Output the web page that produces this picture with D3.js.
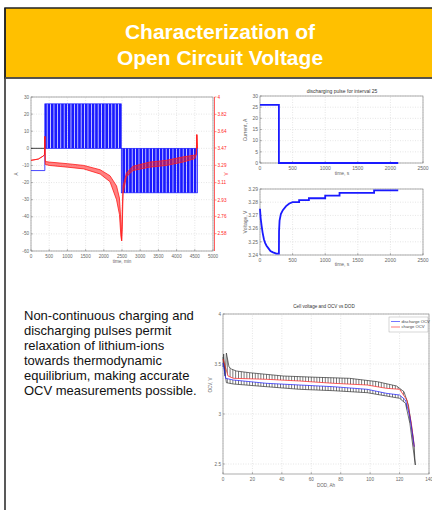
<!DOCTYPE html>
<html>
<head>
<meta charset="utf-8">
<script src="https://cdn.jsdelivr.net/npm/d3@7"></script>
<style>
  body { margin: 0; background: #fff; }
  svg { display: block; font-family: "Liberation Sans", Arial, sans-serif; }
</style>
</head>
<body>
<svg id="slide" width="432" height="510"></svg>
<script>
// ---- text ----
const titleLines = ["Characterization of", "Open Circuit Voltage"];
const bodyLines = [
  "Non-continuous charging and",
  "discharging pulses permit",
  "relaxation of lithium-ions",
  "towards thermodynamic",
  "equilibrium, making accurate",
  "OCV measurements possible."
];

// ---- chart 1 : full pulse test (current A, voltage V vs time, min) ----
const c1Phases = [
  { name: "rest", start: 0, end: 380, current: -13 },
  { name: "charge", start: 380, end: 2480, current: 26 },
  { name: "discharge", start: 2480, end: 4570, current: -26 }
];
const c1Time  = [0, 200, 330, 370, 380, 392, 500, 1000, 1450, 1900, 2170, 2350, 2430, 2470, 2490, 2505, 2530, 2620, 2800, 3260, 3720, 4180, 4500, 4540, 4555, 4575];
const c1VHigh = [3.342, 3.355, 3.385, 3.40, 3.59, 3.33, 3.324, 3.307, 3.289, 3.244, 3.182, 3.076, 2.95, 2.70, 2.507, 2.80, 3.076, 3.209, 3.28, 3.324, 3.342, 3.378, 3.396, 3.40, 3.609, 3.467];
const c1VLow  = [3.342, 3.355, 3.385, 3.40, 3.59, 3.30, 3.289, 3.271, 3.253, 3.20, 3.12, 2.933, 2.78, 2.55, 2.507, 2.62, 3.00, 3.17, 3.236, 3.271, 3.289, 3.324, 3.36, 3.40, 3.609, 3.467];
const c1VLabels = ["4", "3.82", "3.64", "3.47", "3.29", "3.11", "2.93", "2.76", "2.58"];

// ---- chart 2 : discharging pulse for interval 25 ----
const c2Time = [0, 290, 290, 2120];
const c2Current = [26, 26, 0, 0];

// ---- chart 3 : voltage response of that pulse ----
const c3Time = [0, 10, 25, 40, 60, 80, 100, 130, 160, 200, 250, 290, 292, 300, 320, 350, 400, 450, 500, 600, 600, 750, 750, 1000, 1000, 1220, 1220, 1750, 1750, 2120];
const c3Volt = [3.275, 3.268, 3.262, 3.257, 3.252, 3.249, 3.247, 3.245, 3.243, 3.242, 3.241, 3.241, 3.258, 3.266, 3.271, 3.274, 3.277, 3.279, 3.280, 3.280, 3.2815, 3.2815, 3.283, 3.283, 3.285, 3.285, 3.287, 3.287, 3.289, 3.289];

// ---- chart 4 : cell voltage and OCV vs DOD ----
const c4UpperDod = [0, 0.45, 1.4, 2.3, 4.1, 5.7, 9, 18, 41, 64, 86, 105, 118, 123, 126, 129.5, 130.7];
const c4UpperV   = [3.47, 3.60, 3.38, 3.61, 3.47, 3.45, 3.43, 3.413, 3.38, 3.367, 3.357, 3.323, 3.28, 3.223, 3.09, 2.74, 2.49];
const c4ChargeDod = [0, 1, 3.4, 7, 29.5, 52, 75, 98, 111, 120, 125, 128, 130];
const c4ChargeV   = [3.55, 3.50, 3.38, 3.357, 3.347, 3.33, 3.307, 3.29, 3.257, 3.247, 3.14, 2.907, 2.673];
const c4DischDod = [0, 1.8, 7, 29.5, 52, 75, 98, 111, 120, 124, 127, 130];
const c4DischV   = [3.51, 3.357, 3.34, 3.307, 3.29, 3.273, 3.247, 3.207, 3.19, 3.14, 2.973, 2.673];
const c4LowerDod = [0, 0.5, 2.3, 7, 29.5, 52, 75, 98, 111, 120, 124, 127, 130.7];
const c4LowerV   = [3.57, 3.50, 3.313, 3.30, 3.273, 3.247, 3.233, 3.213, 3.18, 3.157, 3.107, 2.907, 2.49];
const c4Legend = ["discharge OCV", "charge OCV"];

const svg = d3.select("#slide");
const defs = svg.append("defs");
const BLUE = "#1a1aff", RED = "#ff1a1a", TICK = "#666";

// ---- slide frame ----
svg.append("rect").attr("x", 5).attr("y", 8).attr("width", 440).attr("height", 70)
  .attr("fill", "#ffc000").attr("stroke", "#222").attr("stroke-width", 1.5);
svg.append("line").attr("x1", 5).attr("x2", 5).attr("y1", 8).attr("y2", 510)
  .attr("stroke", "#222").attr("stroke-width", 1.5);
svg.append("line").attr("x1", 5).attr("x2", 432).attr("y1", 78).attr("y2", 78)
  .attr("stroke", "#555").attr("stroke-width", 1.5);

svg.selectAll(".title").data(titleLines).join("text")
  .attr("x", 220).attr("y", (d, i) => 38.5 + i * 26)
  .attr("text-anchor", "middle").attr("fill", "#fff")
  .attr("font-weight", "bold").attr("font-size", 21).text(d => d);

svg.selectAll(".body").data(bodyLines).join("text")
  .attr("x", 24).attr("y", (d, i) => 319.5 + i * 15)
  .attr("fill", "#111").attr("font-size", 13).text(d => d);

// hatch patterns
defs.append("pattern").attr("id", "pulses").attr("patternUnits", "userSpaceOnUse")
  .attr("width", 3.4).attr("height", 10)
  .append("rect").attr("width", 2.7).attr("height", 10).attr("fill", BLUE);
defs.append("pattern").attr("id", "comb").attr("patternUnits", "userSpaceOnUse")
  .attr("width", 2.8).attr("height", 10)
  .append("rect").attr("width", 0.6).attr("height", 10).attr("fill", "#222");

// generic matlab-like axes box
function axesBox(g, x, y, xTicks, yTicks, opts = {}) {
  const [xa, xb] = x.range(), [ya, yb] = y.range();
  g.append("rect").attr("x", xa).attr("y", yb).attr("width", xb - xa).attr("height", ya - yb)
    .attr("fill", "#fff");
  // dotted grid
  g.selectAll(null).data(xTicks).join("line")
    .attr("x1", d => x(d)).attr("x2", d => x(d)).attr("y1", ya).attr("y2", yb)
    .attr("stroke", "#ccc").attr("stroke-width", 0.5).attr("stroke-dasharray", "1,1.5");
  g.selectAll(null).data(yTicks).join("line")
    .attr("x1", xa).attr("x2", xb).attr("y1", d => y(d)).attr("y2", d => y(d))
    .attr("stroke", "#ccc").attr("stroke-width", 0.5).attr("stroke-dasharray", "1,1.5");
  g.append("rect").attr("x", xa).attr("y", yb).attr("width", xb - xa).attr("height", ya - yb)
    .attr("fill", "none").attr("stroke", "#777").attr("stroke-width", 0.6);
  const fs = opts.fs || 5;
  const xt = opts.xFmt || (d => d);
  const yt = opts.yFmt || (d => d);
  g.selectAll(null).data(xTicks).join("text")
    .attr("x", d => x(d)).attr("y", ya + fs + 2).attr("text-anchor", "middle")
    .attr("font-size", fs).attr("fill", TICK).text(xt);
  g.selectAll(null).data(yTicks).join("text")
    .attr("x", xa - 2).attr("y", d => y(d) + fs * 0.35).attr("text-anchor", "end")
    .attr("font-size", fs).attr("fill", TICK).text(yt);
  // small inside ticks
  g.selectAll(null).data(yTicks).join("line")
    .attr("x1", xa).attr("x2", xa + 2).attr("y1", d => y(d)).attr("y2", d => y(d))
    .attr("stroke", "#777").attr("stroke-width", 0.5);
  g.selectAll(null).data(xTicks).join("line")
    .attr("x1", d => x(d)).attr("x2", d => x(d)).attr("y1", ya).attr("y2", ya - 2)
    .attr("stroke", "#777").attr("stroke-width", 0.5);
}

// ================= chart 1 =================
{
  const g = svg.append("g");
  const x = d3.scaleLinear().domain([0, 5000]).range([31, 213]);
  const yA = d3.scaleLinear().domain([-60, 30]).range([251, 97]);
  const yV = d3.scaleLinear().domain([2.4, 4.0]).range([251, 97]);
  axesBox(g, x, yA, d3.range(0, 5001, 500), d3.range(-60, 31, 10), { fs: 4.6 });

  // current: rest level then pulse blocks
  const rest = c1Phases[0];
  g.append("path")
    .attr("d", d3.line()([[x(rest.start), yA(rest.current)], [x(rest.end), yA(rest.current)], [x(rest.end), yA(0)]]))
    .attr("fill", "none").attr("stroke", BLUE).attr("stroke-width", 0.8);
  g.append("line").attr("x1", x(rest.start)).attr("x2", x(rest.end))
    .attr("y1", yA(0)).attr("y2", yA(0)).attr("stroke", "#111").attr("stroke-width", 0.8);
  c1Phases.slice(1).forEach(p => {
    const top = Math.min(yA(p.current), yA(0)), h = Math.abs(yA(p.current) - yA(0));
    g.append("rect").attr("x", x(p.start)).attr("y", top).attr("width", x(p.end) - x(p.start))
      .attr("height", h).attr("fill", "url(#pulses)");
    g.append("rect").attr("x", x(p.start)).attr("y", top).attr("width", x(p.end) - x(p.start))
      .attr("height", h).attr("fill", "none").attr("stroke", BLUE).attr("stroke-width", 0.7);
  });

  // voltage band
  const hi = c1Time.map((t, i) => [x(t), yV(c1VHigh[i])]);
  const lo = c1Time.map((t, i) => [x(t), yV(c1VLow[i])]).reverse();
  g.append("path").attr("d", d3.line()(hi.concat(lo)) + "Z")
    .attr("fill", RED).attr("fill-opacity", 0.55).attr("stroke", RED).attr("stroke-width", 0.8);

  // right voltage axis
  const xr = x.range()[1] + 1.5;
  g.append("line").attr("x1", xr).attr("x2", xr).attr("y1", 97).attr("y2", 251)
    .attr("stroke", RED).attr("stroke-width", 0.7);
  g.selectAll(null).data(c1VLabels).join("text")
    .attr("x", xr + 3).attr("y", d => yV(+d) + 1.6).attr("font-size", 4.6).attr("fill", RED).text(d => d);
  g.selectAll(null).data(c1VLabels).join("line")
    .attr("x1", xr).attr("x2", xr + 2).attr("y1", d => yV(+d)).attr("y2", d => yV(+d))
    .attr("stroke", RED).attr("stroke-width", 0.5);
  g.append("text").attr("x", 122).attr("y", 263).attr("text-anchor", "middle")
    .attr("font-size", 4.6).attr("fill", TICK).text("time, min");
  g.append("text").attr("transform", "translate(18,174) rotate(-90)").attr("text-anchor", "middle")
    .attr("font-size", 4.6).attr("fill", TICK).text("A");
  g.append("text").attr("transform", "translate(228,174) rotate(-90)").attr("text-anchor", "middle")
    .attr("font-size", 4.6).attr("fill", RED).text("V");
}

// ================= chart 2 =================
{
  const g = svg.append("g");
  const x = d3.scaleLinear().domain([0, 2500]).range([260, 423]);
  const y = d3.scaleLinear().domain([0, 30]).range([163, 96]);
  axesBox(g, x, y, d3.range(0, 2501, 500), d3.range(0, 31, 5), { fs: 5 });
  g.append("path").attr("d", d3.line()(c2Time.map((t, i) => [x(t), y(c2Current[i])])))
    .attr("fill", "none").attr("stroke", BLUE).attr("stroke-width", 1.8);
  g.append("text").attr("x", 342).attr("y", 93).attr("text-anchor", "middle")
    .attr("font-size", 5).attr("fill", "#333").text("discharging pulse for interval 25");
  g.append("text").attr("x", 342).attr("y", 175).attr("text-anchor", "middle")
    .attr("font-size", 5).attr("fill", TICK).text("time, s");
  g.append("text").attr("transform", "translate(247,130) rotate(-90)").attr("text-anchor", "middle")
    .attr("font-size", 5).attr("fill", TICK).text("Current, A");
}

// ================= chart 3 =================
{
  const g = svg.append("g");
  const x = d3.scaleLinear().domain([0, 2500]).range([260, 423]);
  const y = d3.scaleLinear().domain([3.24, 3.29]).range([255, 189]);
  axesBox(g, x, y, d3.range(0, 2501, 500), [3.24, 3.25, 3.26, 3.27, 3.28, 3.29],
    { fs: 5, yFmt: d3.format(".2f") });
  g.append("path").attr("d", d3.line()(c3Time.map((t, i) => [x(t), y(c3Volt[i])])))
    .attr("fill", "none").attr("stroke", BLUE).attr("stroke-width", 1.8);
  g.append("text").attr("x", 342).attr("y", 266).attr("text-anchor", "middle")
    .attr("font-size", 5).attr("fill", TICK).text("time, s");
  g.append("text").attr("transform", "translate(247,222) rotate(-90)").attr("text-anchor", "middle")
    .attr("font-size", 5).attr("fill", TICK).text("Voltage, V");
}

// ================= chart 4 =================
{
  const g = svg.append("g");
  const x = d3.scaleLinear().domain([0, 140]).range([223, 429]);
  const y = d3.scaleLinear().domain([2.4, 4.0]).range([474, 314]);
  axesBox(g, x, y, d3.range(0, 141, 20), [2.5, 3, 3.5, 4], { fs: 4.6 });
  const pts = (ds, vs) => ds.map((d, i) => [x(d), y(vs[i])]);
  const up = pts(c4UpperDod, c4UpperV), ch = pts(c4ChargeDod, c4ChargeV);
  const dis = pts(c4DischDod, c4DischV), low = pts(c4LowerDod, c4LowerV);
  const line = d3.line();
  g.append("path").attr("d", line(up.concat(ch.slice().reverse())) + "Z").attr("fill", "url(#comb)");
  g.append("path").attr("d", line(dis.concat(low.slice().reverse())) + "Z").attr("fill", "url(#comb)");
  [[up, "#333"], [low, "#333"], [ch, RED], [dis, BLUE]].forEach(([p, c]) => {
    g.append("path").attr("d", line(p)).attr("fill", "none").attr("stroke", c).attr("stroke-width", 0.7);
  });
  // legend
  g.append("rect").attr("x", 389).attr("y", 317).attr("width", 39).attr("height", 15)
    .attr("fill", "#fff").attr("stroke", "#999").attr("stroke-width", 0.4);
  c4Legend.forEach((t, i) => {
    const ly = 321.5 + i * 5.5;
    g.append("line").attr("x1", 391).attr("x2", 400).attr("y1", ly).attr("y2", ly)
      .attr("stroke", i ? RED : BLUE).attr("stroke-width", 0.6);
    g.append("text").attr("x", 401.5).attr("y", ly + 1.4).attr("font-size", 4.2).attr("fill", "#444").text(t);
  });
  g.append("text").attr("x", 324).attr("y", 308).attr("text-anchor", "middle")
    .attr("font-size", 4.6).attr("fill", "#333").text("Cell voltage and OCV vs DOD");
  g.append("text").attr("x", 326).attr("y", 487).attr("text-anchor", "middle")
    .attr("font-size", 4.6).attr("fill", TICK).text("DOD, Ah");
  g.append("text").attr("transform", "translate(212,385) rotate(-90)").attr("text-anchor", "middle")
    .attr("font-size", 4.6).attr("fill", TICK).text("OCV, V");
}
</script>
</body>
</html>
